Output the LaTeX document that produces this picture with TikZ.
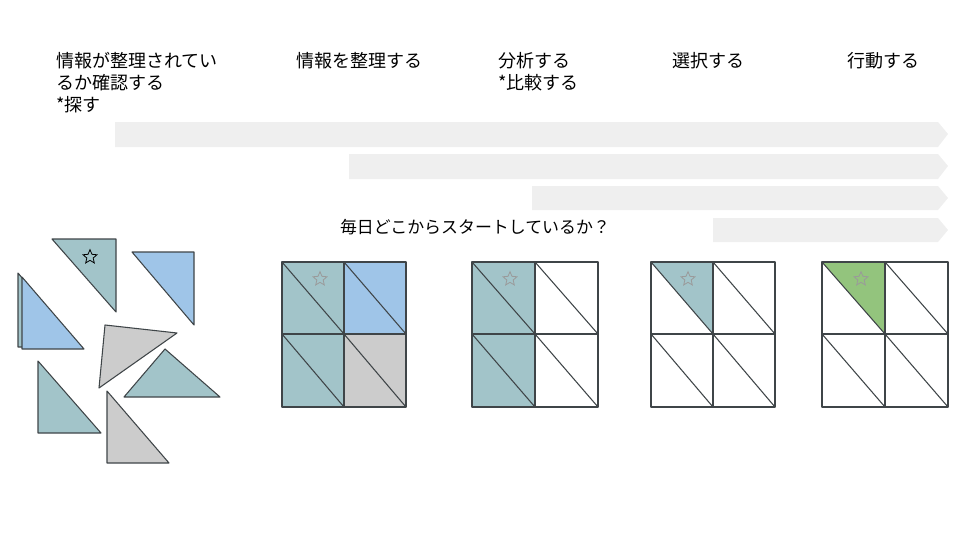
\documentclass[tikz,border=0pt]{standalone}
\usepackage{fontspec}
\setmainfont{Noto Sans CJK JP}
\usetikzlibrary{shapes.geometric}
\definecolor{tealfill}{HTML}{A2C4C9}
\definecolor{bluefill}{HTML}{9FC5E8}
\definecolor{greyfill}{HTML}{CCCCCC}
\definecolor{greenfill}{HTML}{93C47D}
\definecolor{bandgrey}{HTML}{EFEFEF}
\definecolor{edgecol}{HTML}{3F4548}
\definecolor{stargrey}{HTML}{9A9A9A}
\begin{document}
\begin{tikzpicture}[x=0.75pt, y=-0.75pt,
    tri/.style={draw=edgecol, line width=0.8pt, line join=round},
    bandarrow/.style={fill=bandgrey},
    starmark/.style={star, star points=5, star point ratio=2.2, minimum size=11pt, inner sep=0pt, draw=#1, line width=0.6pt},
    steptext/.style={anchor=north west, inner sep=0pt, align=left, font=\fontsize{13.5}{16.5}\selectfont}]
    \useasboundingbox (0,0) rectangle (960,540);
    \node[steptext] (step1) at (56,52) {情報が整理されてい\\るか確認する\\*探す};
    \node[steptext] (step2) at (296,52) {情報を整理する};
    \node[steptext] (step3) at (498,52) {分析する\\*比較する};
    \node[steptext] (step4) at (672,52) {選択する};
    \node[steptext] (step5) at (847,52) {行動する};
    \fill[bandarrow] (115,122) -- (938,122) -- (948,134) -- (938,147) -- (115,147) -- cycle;
    \fill[bandarrow] (349,154) -- (938,154) -- (948,166) -- (938,179) -- (349,179) -- cycle;
    \fill[bandarrow] (532,186) -- (938,186) -- (948,198) -- (938,210) -- (532,210) -- cycle;
    \fill[bandarrow] (713,218) -- (938,218) -- (948,230) -- (938,242) -- (713,242) -- cycle;
    \node[inner sep=0pt, font=\fontsize{12.7}{15}\selectfont] (question) at (475,227) {毎日どこからスタートしているか？};
    % scattered pieces
    \draw[tri, fill=tealfill] (52,239) -- (116,239) -- (116,312) -- cycle;
    \node[starmark=black] (star0) at (90,257) {};
    \draw[tri, fill=bluefill] (132,252) -- (194,252) -- (194,325) -- cycle;
    \draw[tri, fill=tealfill] (18,273) -- (18,347) -- (81,347) -- cycle;
    \draw[tri, fill=bluefill] (22,277) -- (22,349) -- (84,349) -- cycle;
    \draw[tri, fill=greyfill] (105,325) -- (177,333) -- (99,388) -- cycle;
    \draw[tri, fill=tealfill] (165,349) -- (220,397) -- (124,397) -- cycle;
    \draw[tri, fill=tealfill] (38,361) -- (38,433) -- (101,433) -- cycle;
    \draw[tri, fill=greyfill] (107,391) -- (107,463) -- (169,463) -- cycle;
    % grid 1
    \fill[tealfill] (282,262) rectangle (344,407);
    \fill[bluefill] (344,262) rectangle (406,334);
    \fill[greyfill] (344,334) rectangle (406,407);
    \draw[tri] (282,262) rectangle (406,407);
    \draw[tri] (344,262) -- (344,407) (282,334) -- (406,334);
    \draw[tri] (282,262) -- (344,334) (344,262) -- (406,334) (282,334) -- (344,407) (344,334) -- (406,407);
    \node[starmark=stargrey] (star1) at (320,279) {};
    % grid 2
    \fill[tealfill] (472,262) rectangle (535,407);
    \draw[tri] (472,262) rectangle (598,407);
    \draw[tri] (535,262) -- (535,407) (472,334) -- (598,334);
    \draw[tri] (472,262) -- (535,334) (535,262) -- (598,334) (472,334) -- (535,407) (535,334) -- (598,407);
    \node[starmark=stargrey] (star2) at (510,279) {};
    % grid 3
    \fill[tealfill] (651,262) -- (713,262) -- (713,334) -- cycle;
    \draw[tri] (651,262) rectangle (775,407);
    \draw[tri] (713,262) -- (713,407) (651,334) -- (775,334);
    \draw[tri] (651,262) -- (713,334) (713,262) -- (775,334) (651,334) -- (713,407) (713,334) -- (775,407);
    \node[starmark=stargrey] (star3) at (688,279) {};
    % grid 4
    \fill[greenfill] (822,262) -- (885,262) -- (885,334) -- cycle;
    \draw[tri] (822,262) rectangle (948,407);
    \draw[tri] (885,262) -- (885,407) (822,334) -- (948,334);
    \draw[tri] (822,262) -- (885,334) (885,262) -- (948,334) (822,334) -- (885,407) (885,334) -- (948,407);
    \node[starmark=stargrey] (star4) at (861,279) {};
\end{tikzpicture}
\end{document}
